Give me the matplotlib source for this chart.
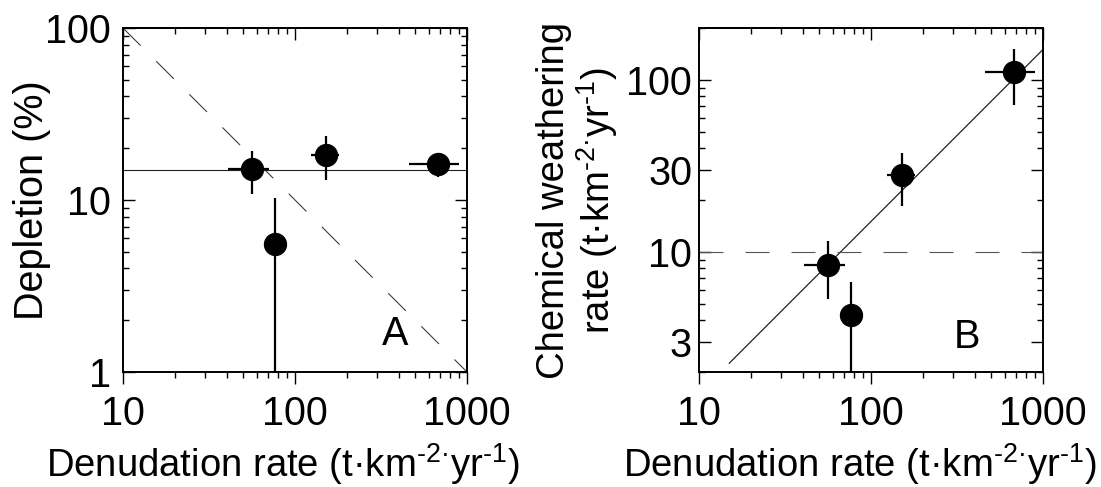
import numpy as np
import matplotlib
matplotlib.use('Agg')
import matplotlib.pyplot as plt
from matplotlib.ticker import NullFormatter

plt.rcParams['font.family'] = ['Liberation Sans', 'DejaVu Sans']
plt.rcParams['mathtext.fontset'] = 'custom'
plt.rcParams['mathtext.rm'] = 'Liberation Sans'
plt.rcParams['mathtext.it'] = 'Liberation Sans'
plt.rcParams['mathtext.default'] = 'regular'

# data
denudation = [56, 77, 152, 680]
denudation_err = [15, 0, 28, 220]
depletion = [15.1, 5.55, 18.3, 16.1]
depletion_err = [4.2, 4.7, 5.3, 2.5]
weathering = [8.4, 4.3, 27.9, 111]
weathering_err = [3.1, 2.4, 9.4, 40]

mean_depletion = 15          # % (horizontal line, panel A)
weathering_frac = 0.15       # slope of line in panel B
fit_x = [15, 1000]
threshold = 10               # dashed line in panel B

units = r't·km$^{\text{-}2·}$yr$^{\text{-}1}$'
xlab = 'Denudation rate (' + units + ')'
FS = 28.5      # tick labels, panel letters
LFS = 27.5     # axis labels

W, H = 1101, 487
fig = plt.figure(figsize=(W / 100, H / 100), dpi=100)


def add_panel(left_px):
    ax = fig.add_axes([left_px / W, (H - 372) / H, 344 / W, 344 / H])
    ax.set_xscale('log')
    ax.set_yscale('log')
    for s in ax.spines.values():
        s.set_linewidth(1.4)
    ax.tick_params(axis='x', which='both', direction='out', width=1.0,
                   labelsize=FS, pad=8, top=False)
    ax.tick_params(axis='x', which='major', length=8.6)
    ax.tick_params(axis='x', which='minor', length=4.5)
    ax.tick_params(axis='y', which='both', direction='in', right=True, width=1.0,
                   labelsize=FS)
    ax.tick_params(axis='y', which='major', length=8.6)
    ax.tick_params(axis='y', which='minor', length=4.5)
    ax.set_xlim(10, 1000)
    ax.set_xticks([10, 100, 1000], ['10', '100', '1000'])
    ax.xaxis.set_minor_formatter(NullFormatter())
    ax.yaxis.set_minor_formatter(NullFormatter())
    top = ax.secondary_xaxis('top')
    top.tick_params(axis='x', which='both', direction='in', width=1.0, labeltop=False)
    top.tick_params(axis='x', which='major', length=8.6)
    top.tick_params(axis='x', which='minor', length=4.5)
    top.spines['top'].set_linewidth(1.4)
    return ax


# ---- panel A
axA = add_panel(123)
axA.set_ylim(1, 100)
axA.set_yticks([1, 10, 100], ['1', '10', '100'])
axA.tick_params(axis='y', pad=8.5)
xx = np.array([10, 1000])
axA.plot(xx, [mean_depletion] * 2, color='#222222', lw=0.8)
axA.plot(xx, 1000 / xx, color='#333333', lw=0.75, ls=(0, (24, 21)))
axA.errorbar(denudation, depletion, xerr=denudation_err, yerr=depletion_err,
             fmt='o', ms=15.8, color='black', elinewidth=1.6, capsize=0, zorder=3)
axA.text(0.791, 0.11, 'A', transform=axA.transAxes, fontsize=FS,
         ha='center', va='center')

# ---- panel B
axB = add_panel(699)
axB.set_ylim(2, 200)
axB.set_yticks([3, 10, 30, 100], ['3', '10', '30', '100'])
axB.tick_params(axis='y', pad=5)
fx = np.array(fit_x, dtype=float)
axB.plot(fx, weathering_frac * fx, color='#222222', lw=0.9)
axB.plot(xx, [threshold] * 2, color='#555555', lw=0.8, ls=(0, (21.6, 19.8)))
axB.errorbar(denudation, weathering, xerr=denudation_err, yerr=weathering_err,
             fmt='o', ms=15.8, color='black', elinewidth=1.6, capsize=0, zorder=3)
axB.text(0.778, 0.103, 'B', transform=axB.transAxes, fontsize=FS,
         ha='center', va='center')

# ---- axis labels
fig.text(32 / W, 1 - 200 / H, 'Depletion (%)', rotation=90, fontsize=FS,
         ha='center', va='center')
fig.text(578 / W, 1 - 200 / H, 'Chemical weathering\nrate (' + units + ')',
         rotation=90, fontsize=LFS, ha='center', va='center', ma='center',
         linespacing=1.05)
fig.text(283 / W, 1 - 477 / H, xlab, fontsize=LFS, ha='center', va='baseline')
fig.text(860 / W, 1 - 477 / H, xlab, fontsize=LFS, ha='center', va='baseline')

fig.savefig('out.png', dpi=100)
